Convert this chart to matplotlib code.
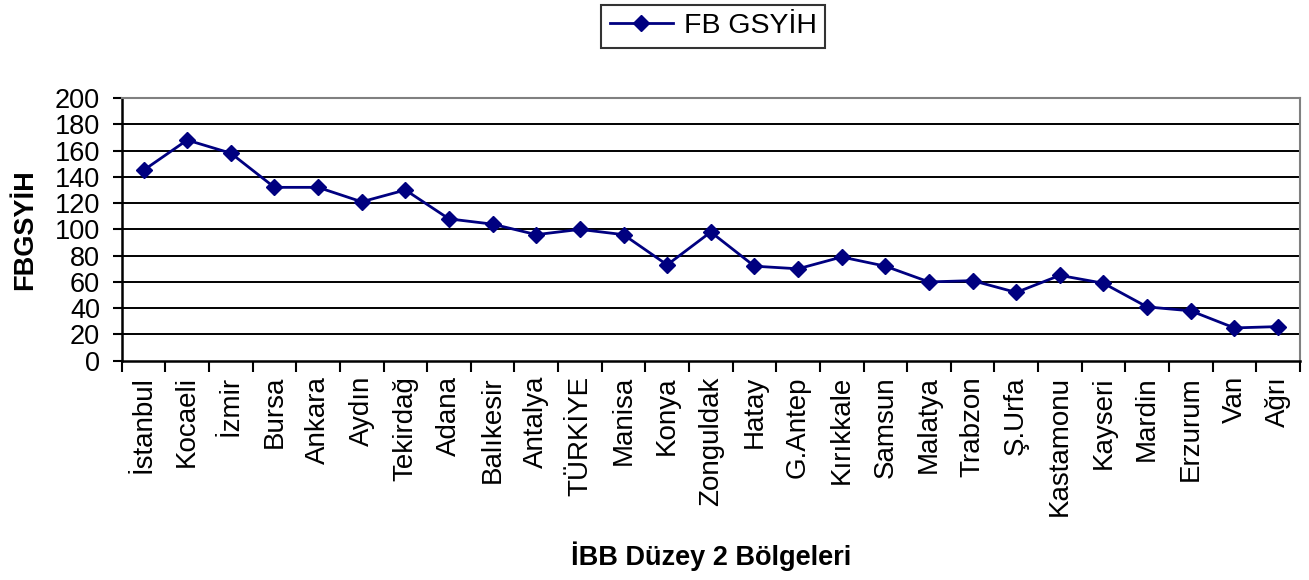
import matplotlib.pyplot as plt
import numpy as np

regions = ["İstanbul", "Kocaeli", "İzmir", "Bursa", "Ankara", "Aydın", "Tekirdağ",
           "Adana", "Balıkesir", "Antalya", "TÜRKİYE", "Manisa", "Konya", "Zonguldak",
           "Hatay", "G.Antep", "Kırıkkale", "Samsun", "Malatya", "Trabzon", "Ş.Urfa",
           "Kastamonu", "Kayseri", "Mardin", "Erzurum", "Van", "Ağrı"]
fb_gsyih = [145, 168, 158, 132, 132, 121, 130, 108, 104, 96, 100, 96, 73, 98,
            72, 70, 79, 72, 60, 61, 52, 65, 59, 41, 38, 25, 26]

plt.rcParams["font.family"] = ["Liberation Sans", "DejaVu Sans"]

fig = plt.figure(figsize=(13.09, 5.8), dpi=100)
ax = fig.add_axes([0.093, 0.378, 0.900, 0.453])

x = np.arange(len(regions))
ax.plot(x, fb_gsyih, color="#000080", marker="D", markersize=8.5, linewidth=2,
        label="FB GSYİH", zorder=3)

ax.set_xlim(-0.5, len(regions) - 0.5)
ax.set_ylim(0, 200)
ax.set_yticks(range(0, 201, 20))
ax.set_xticks(x)
ax.set_xticklabels(regions, rotation=90, fontsize=20)
ax.set_xticks(np.arange(len(regions) + 1) - 0.5, minor=True)
ax.tick_params(axis="x", which="major", length=0, pad=11)
ax.tick_params(axis="x", which="minor", length=8, width=1.5, direction="out")
ax.tick_params(axis="y", labelsize=19.5, length=6.5, width=1.5, direction="out", pad=9)

for v in range(20, 200, 20):
    ax.axhline(v, color="black", linewidth=1.4, zorder=1)

ax.spines["left"].set_linewidth(1.8)
ax.spines["bottom"].set_linewidth(1.8)
ax.spines["top"].set_color("#808080")
ax.spines["right"].set_color("#808080")
ax.spines["top"].set_linewidth(1.5)
ax.spines["right"].set_linewidth(1.5)

ax.set_ylabel("FBGSYİH", fontsize=19.5, fontweight="bold", labelpad=12)
ax.set_xlabel("İBB Düzey 2 Bölgeleri", fontsize=19.5, fontweight="bold", labelpad=18)

leg = fig.legend(loc="upper center", bbox_to_anchor=(0.545, 0.997), fontsize=20.5,
                 frameon=True, fancybox=False, edgecolor="black", handlelength=2.2,
                 handletextpad=0.4, borderpad=0.3, borderaxespad=0.1)
leg.get_frame().set_linewidth(1.5)

plt.savefig("out.png")
